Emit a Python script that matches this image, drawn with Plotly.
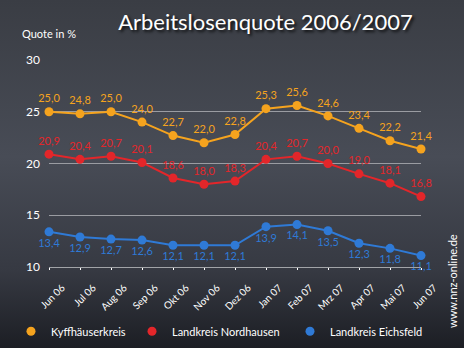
import base64
import plotly.graph_objects as go

# Monthly unemployment rates (%) for three districts in northern Thuringia
months = ["Jun 06", "Jul 06", "Aug 06", "Sep 06", "Okt 06", "Nov 06", "Dez 06",
          "Jan 07", "Feb 07", "Mrz 07", "Apr 07", "Mai 07", "Jun 07"]
kyffhaeuser = [25.0, 24.8, 25.0, 24.0, 22.7, 22.0, 22.8, 25.3, 25.6, 24.6, 23.4, 22.2, 21.4]
nordhausen = [20.9, 20.4, 20.7, 20.1, 18.6, 18.0, 18.3, 20.4, 20.7, 20.0, 19.0, 18.1, 16.8]
eichsfeld = [13.4, 12.9, 12.7, 12.6, 12.1, 12.1, 12.1, 13.9, 14.1, 13.5, 12.3, 11.8, 11.1]
y_ticks = [10, 15, 20, 25, 30]

series = [
    ("Kyffhäuserkreis", kyffhaeuser, "#f5a31e", "top center"),
    ("Landkreis Nordhausen", nordhausen, "#e3262a", "top center"),
    ("Landkreis Eichsfeld", eichsfeld, "#2f7ad6", "bottom center"),
]
legend_x = [0.0237, 0.2845, 0.625]

FONT = "Lato"


def fmt(v):
    return f"{v:.1f}".replace(".", ",")


# slate board background as an SVG gradient
svg = (
    '<svg xmlns="http://www.w3.org/2000/svg" width="464" height="348">'
    '<defs><linearGradient id="g" x1="0" y1="0" x2="0" y2="1">'
    '<stop offset="0" stop-color="#3a3d44"/>'
    '<stop offset="0.45" stop-color="#484c56"/>'
    '<stop offset="0.78" stop-color="#363942"/>'
    '<stop offset="1" stop-color="#1c1e24"/>'
    '</linearGradient></defs>'
    '<rect width="464" height="348" fill="url(#g)"/></svg>'
)
bg_src = "data:image/svg+xml;base64," + base64.b64encode(svg.encode()).decode()

fig = go.Figure()

for name, vals, color, pos in series:
    fig.add_trace(go.Scatter(
        x=months, y=vals, mode="lines+markers+text",
        line=dict(color=color, width=2),
        marker=dict(color=color, size=9),
        text=[fmt(v) for v in vals], textposition=pos,
        textfont=dict(family=FONT, size=11, color=color),
        cliponaxis=False, showlegend=False, name=name,
    ))

# legend entries shown as plain dots, each in its own legend box
legend_layout = {}
for i, (name, vals, color, pos) in enumerate(series):
    key = "legend" if i == 0 else f"legend{i + 1}"
    fig.add_trace(go.Scatter(
        x=[None], y=[None], mode="markers", name=name, legend=key,
        marker=dict(color=color, size=9),
    ))
    legend_layout[key] = dict(
        orientation="h", x=legend_x[i], xref="container", y=0.048, yref="container",
        yanchor="middle", xanchor="left",
        font=dict(family=FONT, size=11, color="white"),
        itemwidth=30, bgcolor="rgba(0,0,0,0)",
    )

fig.update_layout(
    width=464, height=348,
    margin=dict(l=49, r=43, t=60, b=81, autoexpand=False),
    paper_bgcolor="#2e3138", plot_bgcolor="rgba(0,0,0,0)",
    images=[dict(source=bg_src, xref="paper", yref="paper", x=-49 / 372, y=1 + 60 / 207,
                 sizex=464 / 372, sizey=348 / 207, sizing="stretch",
                 xanchor="left", yanchor="top", layer="below")],
    font=dict(family=FONT, color="white"),
    title=dict(text="Arbeitslosenquote 2006/2007", x=0.572, xanchor="center",
               y=0.935, yanchor="middle",
               font=dict(family=FONT, size=22, color="white",
                         shadow="2px 2px 3px rgba(0,0,0,0.8)")),
    showlegend=True,
    annotations=[dict(text="Quote in %", xref="paper", yref="paper",
                      x=-29 / 372, y=1 + 26 / 207, xanchor="left", yanchor="middle",
                      showarrow=False, font=dict(family=FONT, size=11, color="white")),
                 dict(text="www.nnz-online.de", xref="paper", yref="paper",
                      x=1 + 31 / 372, y=-14 / 207, xanchor="center", yanchor="middle",
                      textangle=-90, showarrow=False,
                      font=dict(family=FONT, size=11, color="white"))],
    **legend_layout,
)

fig.update_xaxes(
    type="category", range=[0, 12], showgrid=False, zeroline=False, automargin=False,
    showline=True, linecolor="#a2a4a8", linewidth=1,
    ticks="outside", ticklen=2, tickcolor="white",
    tickangle=-45, tickfont=dict(family=FONT, size=10, color="white"),
    ticklabelshift=13, ticklabelstandoff=8,
)
fig.update_yaxes(
    range=[10, 30], tickvals=y_ticks, showgrid=True, gridcolor="#9a9ca2",
    gridwidth=1, zeroline=False, showline=False, automargin=False,
    tickfont=dict(family=FONT, size=12, color="white"), ticklabelstandoff=8,
)

fig.write_html("out.html")
